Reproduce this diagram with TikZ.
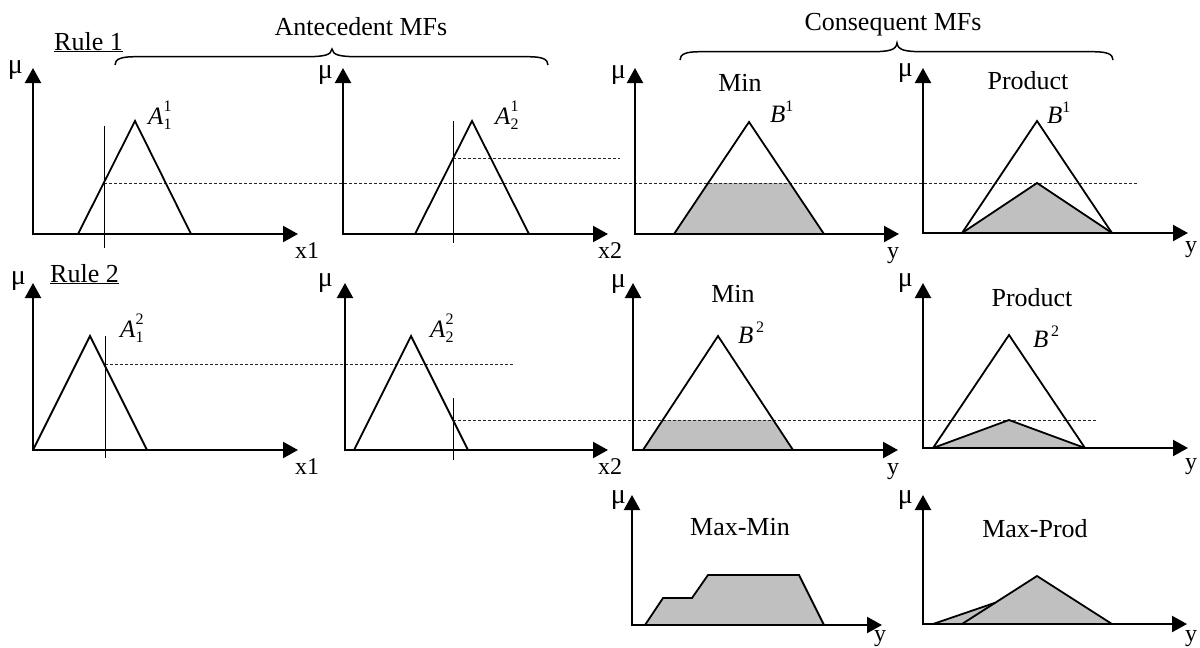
\documentclass[tikz,border=0pt]{standalone}
\usepackage{fontspec}
\setmainfont{Liberation Serif}
\usetikzlibrary{arrows.meta}
\definecolor{mfgray}{HTML}{C0C0C0}
\newcommand\mflab[3]{\textit{#1}\makebox[0pt][l]{\raisebox{13pt}{\fontsize{16}{16}\selectfont #3}}\raisebox{-5pt}{\fontsize{16}{16}\selectfont #2}}
\newcommand\mfsup[2]{\textit{#1}\raisebox{11pt}{\fontsize{16}{16}\selectfont #2}}
\begin{document}
\begin{tikzpicture}[x=1pt,y=-1pt,
  axisline/.style={line width=2.2pt,line join=miter,{Triangle[length=15pt,width=16pt]}-{Triangle[length=15pt,width=16pt]}},
  mfline/.style={line width=1.8pt,line join=miter},
  inpline/.style={line width=0.9pt},
  guide/.style={line width=0.8pt,dash pattern=on 3pt off 2pt,black!85},
  shadefill/.style={fill=mfgray},
  bracestyle/.style={line width=1.5pt},
  ttl/.style={inner sep=0pt,anchor=base,font=\fontsize{26}{26}\selectfont},
  axl/.style={inner sep=0pt,anchor=base,font=\fontsize{24}{24}\selectfont},
  mulab/.style={inner sep=0pt,anchor=base east,font=\fontsize{28}{28}\selectfont},
  letl/.style={inner sep=0pt,anchor=base west,font=\fontsize{25}{25}\selectfont},
]
\useasboundingbox (0,0) rectangle (1200,648);

% ---------- headers ----------
\node[ttl] (ante) at (361,35) {Antecedent MFs};
\node[ttl] (cons) at (893,30) {Consequent MFs};
\node[ttl,anchor=base west] (rule1) at (54,50) {\underline{Rule 1}};
\node[ttl,anchor=base west] (rule2) at (50,282) {\underline{Rule 2}};
\draw[bracestyle] (115,65) .. controls (115,59) and (121,56.7) .. (135,56.7) -- (305,56.7)
  .. controls (325,56.7) and (331,55) .. (332,49) .. controls (333,55) and (339,56.7) .. (359,56.7)
  -- (528,56.7) .. controls (542,56.7) and (548,59) .. (548,65);
\draw[bracestyle] (680,60) .. controls (680,54) and (686,51.7) .. (700,51.7) -- (870,51.7)
  .. controls (890,51.7) and (896,50) .. (897,43) .. controls (898,50) and (904,51.7) .. (924,51.7)
  -- (1093,51.7) .. controls (1107,51.7) and (1113,54) .. (1113,60);

% ---------- fills ----------
\fill[shadefill] (674,234) -- (708,183) -- (790,183) -- (824,234) -- cycle;
\fill[shadefill] (962,233) -- (1037,183) -- (1112,233) -- cycle;
\fill[shadefill] (643,450) -- (662.7,420) -- (773.3,420) -- (793,450) -- cycle;
\fill[shadefill] (933,448) -- (1009,420) -- (1085,448) -- cycle;
\fill[shadefill] (645,625) -- (663,598) -- (692,598) -- (708,575) -- (799,575) -- (824,625) -- cycle;
\fill[shadefill] (933,624) -- (995.3,602.7) -- (1037,576) -- (1112,624) -- cycle;

% ---------- guide lines ----------
\draw[guide] (104,183) -- (1137,183);
\draw[guide] (453,158) -- (620,158);
\draw[guide] (105,364) -- (513,364);
\draw[guide] (453,420) -- (1097,420);

% ---------- input lines ----------
\draw[inpline] (104,126) -- (104,248);
\draw[inpline] (453,121) -- (453,243);
\draw[inpline] (105,336) -- (105,458);
\draw[inpline] (453,398) -- (453,460);

% ---------- membership functions ----------
\draw[mfline] (78,234) -- (135,121) -- (191,234);
\draw[mfline] (415,234) -- (472,121) -- (529,234);
\draw[mfline] (674,234) -- (749,122) -- (824,234);
\draw[mfline] (962,233) -- (1037,121) -- (1112,233);
\draw[mfline] (962,233) -- (1037,183) -- (1112,233);
\draw[mfline] (33,450) -- (90,336) -- (147,450);
\draw[mfline] (354,450) -- (411,336) -- (468,450);
\draw[mfline] (643,450) -- (718,336) -- (793,450);
\draw[mfline] (933,448) -- (1009,335) -- (1085,448);
\draw[mfline] (933,448) -- (1009,420) -- (1085,448);
\draw[mfline] (645,625) -- (663,598) -- (692,598) -- (708,575) -- (799,575) -- (824,625);
\draw[mfline] (933,624) -- (995.3,602.7);
\draw[mfline] (962,624) -- (1037,576) -- (1112,624);

% ---------- axes ----------
\draw[axisline] (33,68) -- (33,234) -- (298,234);
\draw[axisline] (343,68) -- (343,234) -- (608,234);
\draw[axisline] (635,68) -- (635,234) -- (899,234);
\draw[axisline] (923,68) -- (923,233) -- (1188,233);
\draw[axisline] (33,283) -- (33,450) -- (298,450);
\draw[axisline] (345,283) -- (345,450) -- (608,450);
\draw[axisline] (633,283) -- (633,450) -- (898,450);
\draw[axisline] (923,283) -- (923,448) -- (1188,448);
\draw[axisline] (632,495) -- (632,625) -- (882,625);
\draw[axisline] (923,495) -- (923,624) -- (1187,624);

% ---------- mu labels ----------
\node[mulab] (mu1) at (23,73) {μ};
\node[mulab] (mu2) at (333,78) {μ};
\node[mulab] (mu3) at (626,78) {μ};
\node[mulab] (mu4) at (913,76) {μ};
\node[mulab] (mu5) at (26,284) {μ};
\node[mulab] (mu6) at (333,286) {μ};
\node[mulab] (mu7) at (626,287) {μ};
\node[mulab] (mu8) at (913,286) {μ};
\node[mulab] (mu9) at (626,503) {μ};
\node[mulab] (mu10) at (913,503) {μ};

% ---------- axis labels ----------
\node[axl] (xa1) at (307,258) {x1};
\node[axl] (xa2) at (610,258) {x2};
\node[axl] (ya3) at (893,258) {y};
\node[axl] (ya4) at (1191,252) {y};
\node[axl] (xa5) at (307,474) {x1};
\node[axl] (xa6) at (610,474) {x2};
\node[axl] (ya7) at (893,474) {y};
\node[axl] (ya8) at (1191,469) {y};
\node[axl] (ya9) at (880,641) {y};
\node[axl] (ya10) at (1191,641) {y};

% ---------- titles ----------
\node[ttl] (min1) at (740,91) {Min};
\node[ttl] (prod1) at (1028,89) {Product};
\node[ttl] (min2) at (733,302) {Min};
\node[ttl] (prod2) at (1032,306) {Product};
\node[ttl] (maxmin) at (740,535) {Max-Min};
\node[ttl] (maxprod) at (1035,537) {Max-Prod};

% ---------- set labels ----------
\node[letl] (a11) at (148,124) {\mflab{A}{1}{1}};
\node[letl] (a21) at (495,124) {\mflab{A}{2}{1}};
\node[letl] (b1a) at (770,122) {\mfsup{B}{1}};
\node[letl] (b1b) at (1047,123) {\mfsup{B}{1}};
\node[letl] (a12) at (120,337) {\mflab{A}{1}{2}};
\node[letl] (a22) at (430,337) {\mflab{A}{2}{2}};
\node[letl] (b2a) at (738,343) {\mfsup{B}{\,2}};
\node[letl] (b2b) at (1033,347) {\mfsup{B}{\,2}};
\end{tikzpicture}
\end{document}
